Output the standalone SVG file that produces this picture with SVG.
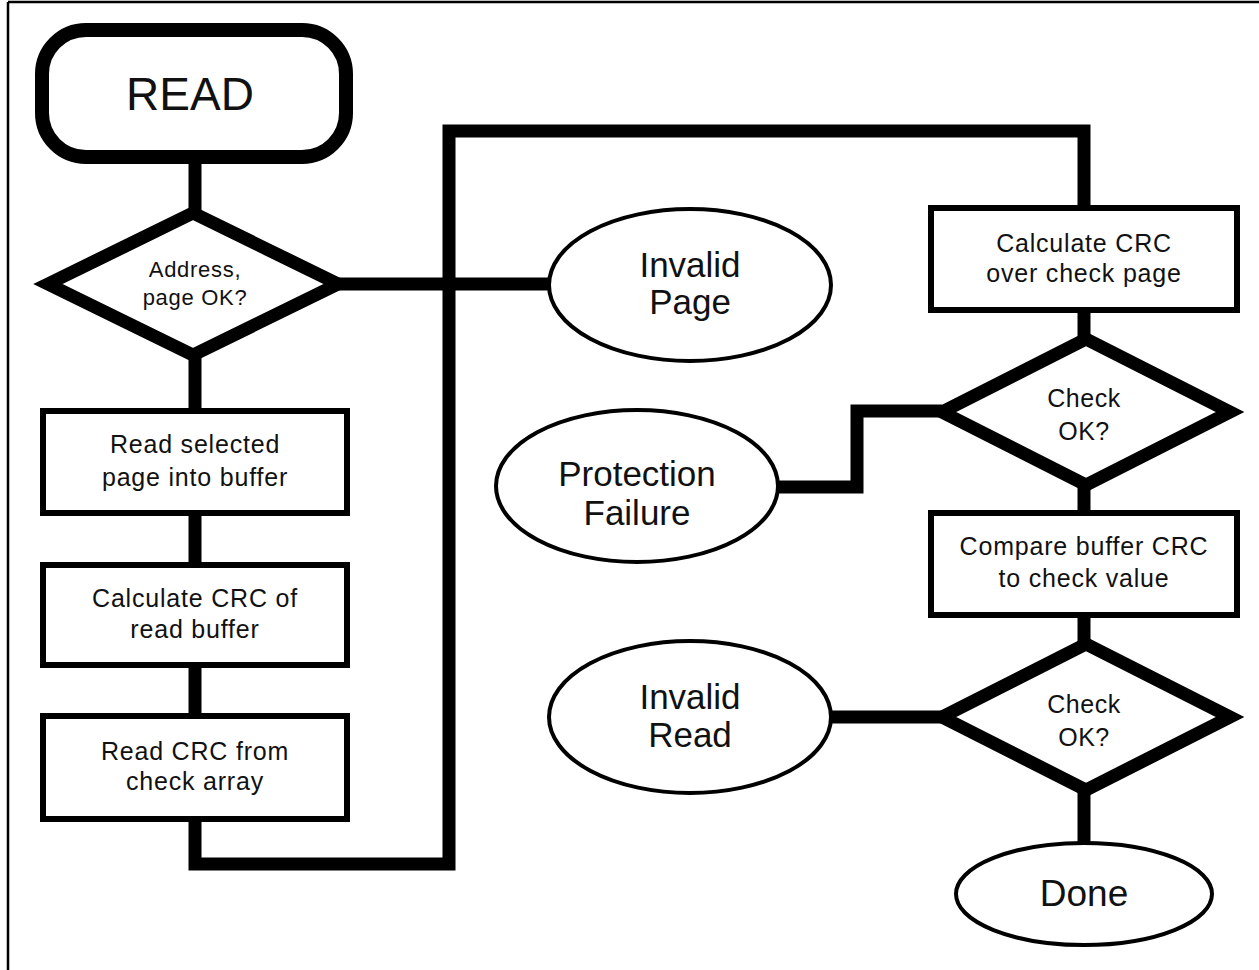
<svg xmlns="http://www.w3.org/2000/svg" width="1259" height="970" viewBox="0 0 1259 970">
  <style>
    .bg { fill: #ffffff; }
    .frame { stroke: #000; stroke-width: 2.5; fill: none; }
    .wire { stroke: #000; stroke-width: 13; fill: none; stroke-linejoin: miter; stroke-linecap: butt; }
    .term { stroke: #000; stroke-width: 14; fill: #fff; }
    .decision { stroke: #000; stroke-width: 13; fill: #fff; stroke-linejoin: miter; }
    .step { stroke: #000; stroke-width: 6; fill: #fff; }
    .end { stroke: #000; stroke-width: 4; fill: #fff; }
    text { font-family: "Liberation Sans", Arial, Helvetica, sans-serif; fill: #111; text-anchor: middle; }
    .t-big { font-size: 46px; }
    .t-oval { font-size: 35px; }
    .t-done { font-size: 37px; }
    .t-box { font-size: 25px; letter-spacing: 0.8px; }
    .t-dec { font-size: 25px; letter-spacing: 0.5px; }
    .t-dec-s { font-size: 22px; letter-spacing: 0.7px; }
  </style>

  <rect class="bg" x="0" y="0" width="1259" height="970"/>

  <!-- frame: top and left edges -->
  <g id="frame">
    <line class="frame" x1="8" y1="2" x2="1259" y2="2"/>
    <line class="frame" x1="8" y1="2" x2="8" y2="970"/>
  </g>

  <!-- connectors -->
  <g id="connectors">
    <line class="wire" x1="195" y1="157" x2="195" y2="214"/>
    <line class="wire" x1="195" y1="354" x2="195" y2="411"/>
    <line class="wire" x1="195" y1="513" x2="195" y2="565"/>
    <line class="wire" x1="195" y1="665" x2="195" y2="716"/>
    <!-- loop from left column over to the check-page column -->
    <polyline class="wire" points="195,819 195,864 449,864 449,131 1084,131 1084,208"/>
    <line class="wire" x1="338" y1="284" x2="549" y2="284"/>
    <line class="wire" x1="1084" y1="310" x2="1084" y2="340"/>
    <line class="wire" x1="1084" y1="484" x2="1084" y2="513"/>
    <line class="wire" x1="1084" y1="615" x2="1084" y2="645"/>
    <line class="wire" x1="1084" y1="789" x2="1084" y2="843"/>
    <polyline class="wire" points="778,487 857,487 857,411 942,411"/>
    <line class="wire" x1="831" y1="717" x2="942" y2="717"/>
  </g>

  <g id="read">
    <rect class="term" x="42" y="30" width="304" height="127" rx="44" ry="44"/>
    <text class="t-big" x="190" y="110">READ</text>
  </g>

  <g id="address-check">
    <polygon class="decision" points="48,284 193,213 338,284 193,355"/>
    <text class="t-dec-s" x="195" y="277">Address,</text>
    <text class="t-dec-s" x="195" y="305">page OK?</text>
  </g>

  <g id="read-page">
    <rect class="step" x="43" y="411" width="304" height="102"/>
    <text class="t-box" x="195" y="453">Read selected</text>
    <text class="t-box" x="195" y="486">page into buffer</text>
  </g>

  <g id="calc-buffer-crc">
    <rect class="step" x="43" y="565" width="304" height="100"/>
    <text class="t-box" x="195" y="607">Calculate CRC of</text>
    <text class="t-box" x="195" y="638">read buffer</text>
  </g>

  <g id="read-check-crc">
    <rect class="step" x="43" y="716" width="304" height="103"/>
    <text class="t-box" x="195" y="760">Read CRC from</text>
    <text class="t-box" x="195" y="790">check array</text>
  </g>

  <g id="invalid-page">
    <ellipse class="end" cx="690" cy="285" rx="141" ry="76"/>
    <text class="t-oval" x="690" y="277">Invalid</text>
    <text class="t-oval" x="690" y="314">Page</text>
  </g>

  <g id="calc-page-crc">
    <rect class="step" x="931" y="208" width="306" height="102"/>
    <text class="t-box" x="1084" y="252">Calculate CRC</text>
    <text class="t-box" x="1084" y="282">over check page</text>
  </g>

  <g id="page-check">
    <polygon class="decision" points="942,412 1086,339 1230,412 1086,485"/>
    <text class="t-dec" x="1084" y="407">Check</text>
    <text class="t-dec" x="1084" y="440">OK?</text>
  </g>

  <g id="protection-failure">
    <ellipse class="end" cx="637" cy="486" rx="141" ry="76"/>
    <text class="t-oval" x="637" y="486">Protection</text>
    <text class="t-oval" x="637" y="525">Failure</text>
  </g>

  <g id="compare-crc">
    <rect class="step" x="931" y="513" width="306" height="102"/>
    <text class="t-box" x="1084" y="555">Compare buffer CRC</text>
    <text class="t-box" x="1084" y="587">to check value</text>
  </g>

  <g id="read-check">
    <polygon class="decision" points="942,717 1086,644 1230,717 1086,790"/>
    <text class="t-dec" x="1084" y="713">Check</text>
    <text class="t-dec" x="1084" y="746">OK?</text>
  </g>

  <g id="invalid-read">
    <ellipse class="end" cx="690" cy="717" rx="141" ry="76"/>
    <text class="t-oval" x="690" y="709">Invalid</text>
    <text class="t-oval" x="690" y="747">Read</text>
  </g>

  <g id="done">
    <ellipse class="end" cx="1084" cy="894" rx="128" ry="51"/>
    <text class="t-done" x="1084" y="906">Done</text>
  </g>
</svg>
